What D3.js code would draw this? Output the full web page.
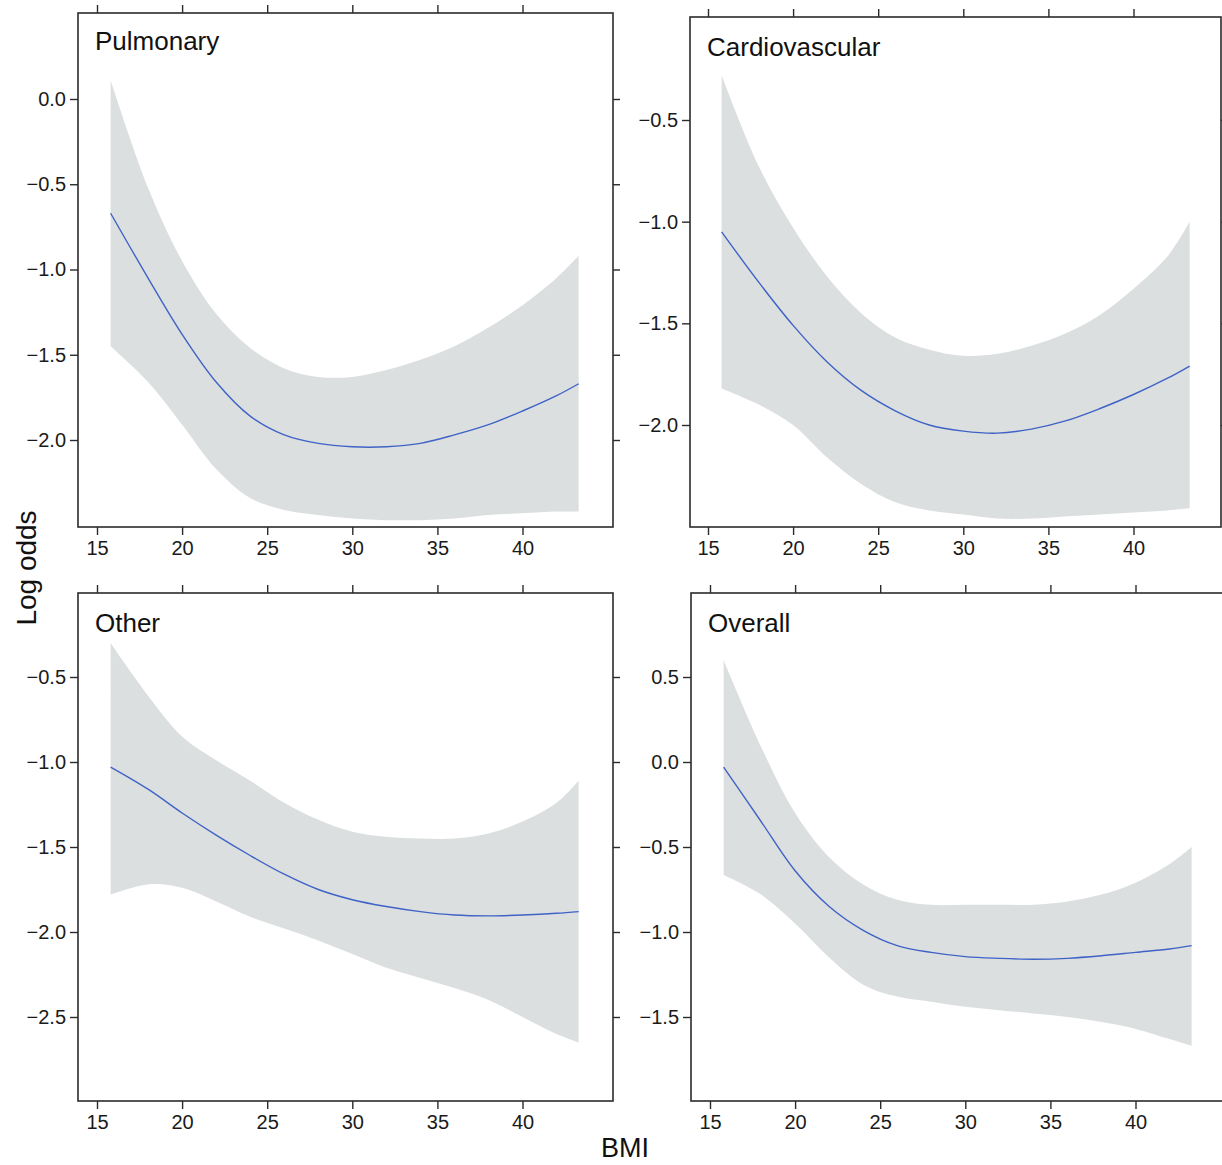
<!DOCTYPE html>
<html lang="en">
  <head>
    <meta charset="utf-8">
    <title>Log odds by BMI - D3</title>
    <style>
      body { margin: 0; background: #fff; }
      svg text { font-family: "Liberation Sans", Arial, Helvetica, sans-serif; }
    </style>
  </head>
  <body>
    <div id="dataviz_area"></div>
    <script src="https://d3js.org/d3.v7.min.js"></script>
    <script>
      // BMI grid shared by all four panels
      var bmi = [15.8, 18, 20, 22, 24, 26, 28, 30, 32, 34, 36, 38, 40, 42, 43.3]
      var xTicks = [15, 20, 25, 30, 35, 40]

      var pulmonaryFit   = [-0.67, -1.05, -1.38, -1.66, -1.86, -1.97, -2.02, -2.04, -2.04, -2.02, -1.97, -1.91, -1.83, -1.74, -1.67]
      var pulmonaryUpper = [0.11, -0.52, -0.95, -1.26, -1.46, -1.58, -1.63, -1.63, -1.59, -1.53, -1.45, -1.34, -1.21, -1.05, -0.92]
      var pulmonaryLower = [-1.45, -1.66, -1.91, -2.17, -2.34, -2.41, -2.44, -2.46, -2.47, -2.47, -2.46, -2.44, -2.43, -2.42, -2.42]
      var pulmonaryTicks = [0, -0.5, -1, -1.5, -2]

      var cardioFit   = [-1.05, -1.30, -1.51, -1.69, -1.83, -1.93, -2.00, -2.03, -2.04, -2.02, -1.98, -1.92, -1.85, -1.77, -1.71]
      var cardioUpper = [-0.28, -0.73, -1.03, -1.27, -1.45, -1.57, -1.63, -1.66, -1.65, -1.61, -1.55, -1.46, -1.33, -1.17, -1.00]
      var cardioLower = [-1.82, -1.90, -2.00, -2.16, -2.29, -2.38, -2.42, -2.44, -2.46, -2.46, -2.45, -2.44, -2.43, -2.42, -2.41]
      var cardioTicks = [-0.5, -1, -1.5, -2]

      var otherFit   = [-1.03, -1.16, -1.30, -1.43, -1.55, -1.66, -1.75, -1.81, -1.85, -1.88, -1.90, -1.905, -1.90, -1.89, -1.88]
      var otherUpper = [-0.30, -0.61, -0.85, -0.99, -1.11, -1.24, -1.34, -1.41, -1.44, -1.45, -1.45, -1.42, -1.35, -1.24, -1.11]
      var otherLower = [-1.78, -1.72, -1.74, -1.82, -1.91, -1.98, -2.05, -2.13, -2.21, -2.27, -2.33, -2.40, -2.50, -2.60, -2.65]
      var otherTicks = [-0.5, -1, -1.5, -2, -2.5]

      var overallFit   = [-0.03, -0.35, -0.64, -0.85, -0.99, -1.08, -1.12, -1.145, -1.155, -1.16, -1.155, -1.14, -1.12, -1.10, -1.08]
      var overallUpper = [0.60, 0.09, -0.30, -0.56, -0.72, -0.81, -0.84, -0.84, -0.84, -0.84, -0.82, -0.78, -0.71, -0.60, -0.50]
      var overallLower = [-0.665, -0.78, -0.95, -1.15, -1.31, -1.38, -1.41, -1.44, -1.46, -1.48, -1.50, -1.53, -1.57, -1.63, -1.67]
      var overallTicks = [0.5, 0, -0.5, -1, -1.5]

      var width = 1222, height = 1165
      var axisColor = "#2b2b2b", bandColor = "#dcdfe0", lineColor = "#3f62c6"

      // panel frames; y scales are anchored on two of their tick values
      var panels = [
        {title: "Pulmonary", fit: pulmonaryFit, lo: pulmonaryLower, hi: pulmonaryUpper, ticks: pulmonaryTicks,
         box: {l: 78, t: 13, r: 613, b: 527}, x15: 97, yA: [0, -2], yPx: [99, 440], titleY: 50},
        {title: "Cardiovascular", fit: cardioFit, lo: cardioLower, hi: cardioUpper, ticks: cardioTicks,
         box: {l: 690, t: 17, r: 1221, b: 527}, x15: 708, yA: [-0.5, -2], yPx: [120, 425], titleY: 56},
        {title: "Other", fit: otherFit, lo: otherLower, hi: otherUpper, ticks: otherTicks,
         box: {l: 78, t: 593, r: 613, b: 1101}, x15: 97, yA: [-0.5, -2.5], yPx: [677, 1017], titleY: 632},
        {title: "Overall", fit: overallFit, lo: overallLower, hi: overallUpper, ticks: overallTicks,
         box: {l: 691, t: 593, r: 1226, b: 1101}, x15: 710, yA: [0.5, -1.5], yPx: [677, 1017], titleY: 632}
      ]

      var svg = d3.select("#dataviz_area")
        .append("svg")
          .attr("width", width)
          .attr("height", height)
          .style("display", "block")

      var fmt = d3.format(".1f")
      var smooth = d3.curveCatmullRom.alpha(0.5)

      panels.forEach(function (p) {
        var g = svg.append("g")
        var x = d3.scaleLinear().domain([15, 40]).range([p.x15, p.x15 + 425.5])
        var y = d3.scaleLinear().domain(p.yA).range(p.yPx)

        var rows = bmi.map(function (b, i) { return {b: b, fit: p.fit[i], lo: p.lo[i], hi: p.hi[i]} })

        // confidence band
        g.append("path")
          .datum(rows)
          .attr("fill", bandColor)
          .attr("d", d3.area()
            .curve(smooth)
            .x(function (d) { return x(d.b) })
            .y0(function (d) { return y(d.lo) })
            .y1(function (d) { return y(d.hi) }))

        // fitted curve
        g.append("path")
          .datum(rows)
          .attr("fill", "none")
          .attr("stroke", lineColor)
          .attr("stroke-width", 1.4)
          .attr("d", d3.line()
            .curve(smooth)
            .x(function (d) { return x(d.b) })
            .y(function (d) { return y(d.fit) }))

        // axes on all four sides, labels only left & bottom
        function styleAxis(sel, labels) {
          sel.select(".domain").remove()
          sel.selectAll("line").attr("stroke", axisColor).attr("stroke-width", 1.4)
          sel.selectAll("text")
            .attr("fill", "#1a1a1a")
            .style("font-size", "20px")
            .style("font-family", '"Liberation Sans", Arial, sans-serif')
          if (!labels) sel.selectAll("text").remove()
        }

        g.append("g")
          .attr("transform", "translate(0," + p.box.b + ")")
          .call(d3.axisBottom(x).tickValues(xTicks).tickSize(8).tickPadding(6).tickFormat(d3.format("d")))
          .call(styleAxis, true)
        g.append("g")
          .attr("transform", "translate(0," + p.box.t + ")")
          .call(d3.axisTop(x).tickValues(xTicks).tickSize(8))
          .call(styleAxis, false)
        g.append("g")
          .attr("transform", "translate(" + p.box.l + ",0)")
          .call(d3.axisLeft(y).tickValues(p.ticks).tickSize(8).tickPadding(4).tickFormat(fmt))
          .call(styleAxis, true)
        g.append("g")
          .attr("transform", "translate(" + p.box.r + ",0)")
          .call(d3.axisRight(y).tickValues(p.ticks).tickSize(7))
          .call(styleAxis, false)

        g.append("rect")
          .attr("x", p.box.l)
          .attr("y", p.box.t)
          .attr("width", p.box.r - p.box.l)
          .attr("height", p.box.b - p.box.t)
          .attr("fill", "none")
          .attr("stroke", axisColor)
          .attr("stroke-width", 1.6)

        g.append("text")
          .attr("x", p.box.l + 17)
          .attr("y", p.titleY)
          .attr("fill", "#111")
          .style("font-size", "26px")
          .text(p.title)
      })

      svg.append("text")
        .attr("transform", "translate(36,568) rotate(-90)")
        .attr("text-anchor", "middle")
        .attr("fill", "#111")
        .style("font-size", "28px")
        .text("Log odds")

      svg.append("text")
        .attr("x", 625)
        .attr("y", 1157)
        .attr("text-anchor", "middle")
        .attr("fill", "#111")
        .style("font-size", "27px")
        .text("BMI")
    </script>
  </body>
</html>
